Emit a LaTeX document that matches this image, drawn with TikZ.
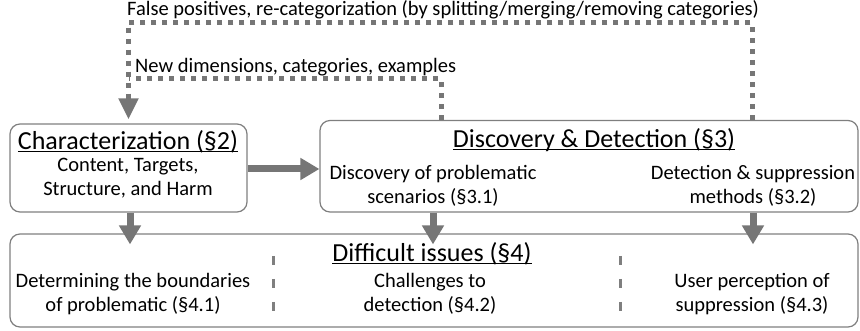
\documentclass[tikz,border=0pt]{standalone}
\usepackage{fontspec}
\setmainfont{Carlito}
\usetikzlibrary{arrows.meta}
\definecolor{linegray}{RGB}{127,127,127}
\definecolor{arrowgray}{RGB}{118,118,118}
% underline that sits just under the baseline, ignoring descenders
\newcommand\headline[1]{\underline{\raisebox{0pt}[\height][0pt]{#1}}}
\begin{document}
\begin{tikzpicture}[x=1pt,y=-1pt,
  box/.style={draw=linegray, line width=1.2pt, rounded corners=10pt, inner sep=0pt},
  % multi-line body text is placed by the baseline of its last line
  body/.style={font=\fontsize{20.5}{24}\selectfont, align=center, inner sep=0pt, anchor=base},
  heading/.style={font=\fontsize{26}{30}\selectfont, inner sep=0pt, anchor=base},
  note/.style={font=\fontsize{20.5}{24}\selectfont, inner sep=0pt, anchor=base west},
  flow/.style={draw=arrowgray, line width=7pt, -{Triangle[length=19pt,width=21pt]}},
  feedback/.style={draw=arrowgray, line width=5pt, dash pattern=on 5pt off 6pt},
  divider/.style={draw=linegray, line width=3pt, dash pattern=on 9pt off 14pt}]
\useasboundingbox (0,0) rectangle (860,331);

% the three stage boxes
\node[box, minimum width=237pt, minimum height=88pt] (char) at (128.5,168) {};
\node[box, minimum width=538pt, minimum height=91.5pt] (disc) at (589,166.25) {};
\node[box, minimum width=848pt, minimum height=93pt] (diff) at (434,280.5) {};

% characterization
\node[heading] (chart) at (128,150) {\headline{Characterization (§2)}};
\node[body] (charb) at (128,196) {Content, Targets,\\Structure, and Harm};

% discovery and detection
\node[heading] (disct) at (594,148) {\headline{Discovery \& Detection (§3)}};
\node[body] (d31) at (433,204) {Discovery of problematic\\scenarios (§3.1)};
\node[body] (d32) at (753,204) {Detection \& suppression\\methods (§3.2)};

% difficult issues
\node[heading] (difft) at (432,262) {\headline{Difficult issues (§4)}};
\node[body] (i41) at (133,311.5) {Determining the boundaries\\of problematic (§4.1)};
\node[body] (i42) at (430,311.5) {Challenges to\\detection (§4.2)};
\node[body] (i43) at (752,311.5) {User perception of\\suppression (§4.3)};

\coordinate (sepA) at (273,256);
\coordinate (sepB) at (620,256);
\draw[divider] (sepA) -- ++(0,55);
\draw[divider] (sepB) -- ++(0,55);

% feedback loops
\coordinate (fbOuter) at (752,22.5);
\coordinate (fbInner) at (441,79);
\draw[feedback] (disc.north -| fbInner) |- (char.north |- fbInner);
\draw[feedback, -{Triangle[length=21pt,width=19pt]}, shorten >=4pt]
  (disc.north -| fbOuter) |- (char.north |- fbOuter) -- (char.north);
\node[note] (fbOuterLbl) at (127,16) {False positives, re-categorization (by splitting/merging/removing categories)};
\node[note] (fbInnerLbl) at (135,72.5) {New dimensions, categories, examples};

% forward flow
\draw[flow] (char.east |- 0,169) -- (disc.west |- 0,169);
\draw[flow, shorten >=-11pt] (char.south -| 130,0) -- (diff.north -| 130,0);
\draw[flow, shorten >=-11pt] (disc.south -| d31) -- (diff.north -| d31);
\draw[flow, shorten >=-11pt] (disc.south -| d32) -- (diff.north -| d32);
\end{tikzpicture}
\end{document}
